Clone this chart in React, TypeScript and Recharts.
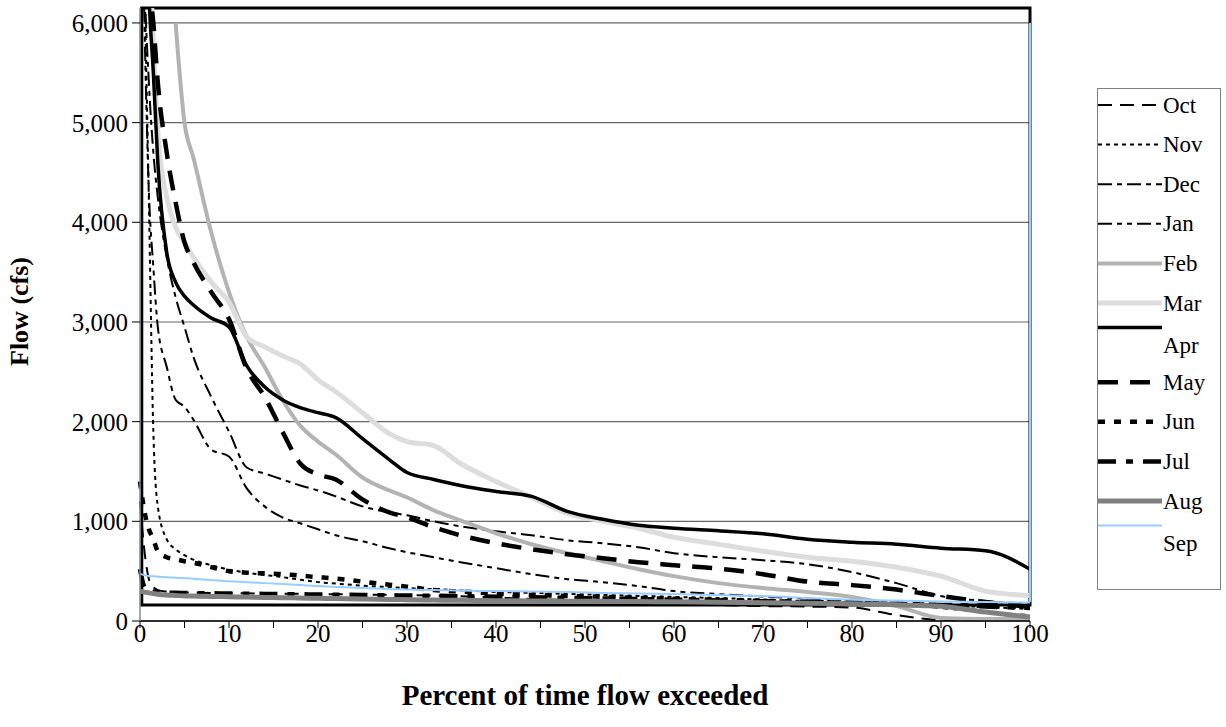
import React from "react";
import {
  LineChart,
  Line,
  XAxis,
  YAxis,
  CartesianGrid,
  ReferenceArea,
  ReferenceLine,
} from "recharts";

// percent of time flow exceeded (shared x positions)
const pct = [0, 0.5, 1, 1.5, 2, 3, 4, 5, 6, 8, 10, 12, 14, 16, 18, 20, 22, 25, 28, 30, 33, 36, 40, 44, 48, 52, 56, 60, 65, 70, 75, 80, 85, 90, 95, 100];

// monthly flow duration values (cfs)
const oct = [1200, 700, 420, 340, 310, 295, 290, 287, 285, 282, 280, 278, 276, 274, 272, 270, 268, 265, 262, 260, 255, 248, 235, 222, 210, 200, 188, 175, 160, 150, 145, 135, 60, 12, 10, 10];
const nov = [9000, 6500, 4200, 1900, 1150, 820, 720, 660, 615, 560, 515, 485, 462, 440, 415, 390, 375, 355, 340, 330, 320, 308, 292, 282, 272, 262, 252, 242, 230, 215, 200, 188, 175, 160, 140, 120];
const dec = [9000, 6500, 5400, 4700, 4250, 3650, 3250, 2950, 2650, 2250, 1900, 1540, 1480, 1420, 1360, 1310, 1250, 1150, 1090, 1060, 1000, 950, 900, 860, 810, 780, 740, 680, 640, 610, 570, 490, 380, 250, 200, 170];
const jan = [8500, 6000, 4300, 3550, 2950, 2550, 2220, 2150, 2020, 1720, 1650, 1330, 1150, 1040, 980, 920, 860, 800, 730, 690, 640, 590, 530, 470, 420, 390, 350, 300, 270, 245, 225, 205, 175, 130, 90, 60];
const feb = [null, null, null, null, null, null, 6000, 5000, 4650, 3900, 3300, 2850, 2550, 2220, 1960, 1800, 1670, 1440, 1310, 1240, 1110, 1010, 880, 770, 680, 600, 520, 450, 380, 330, 290, 240, 150, 30, 20, 20];
const mar = [9000, 8000, 6800, 5800, 4900, 4250, 3950, 3800, 3650, 3400, 3200, 2850, 2750, 2660, 2580, 2420, 2300, 2090, 1880, 1800, 1760, 1580, 1400, 1240, 1080, 1000, 930, 840, 770, 700, 640, 600, 540, 450, 300, 255];
const apr = [9500, 8000, 6300, 5500, 4600, 3700, 3400, 3260, 3170, 3040, 2950, 2560, 2350, 2220, 2140, 2090, 2040, 1830, 1620, 1490, 1420, 1360, 1300, 1250, 1100, 1020, 960, 930, 905, 875, 820, 790, 770, 730, 705, 520];
const may = [9000, 8500, 6500, 6000, 5400, 4700, 4200, 3800, 3600, 3300, 3030, 2530, 2250, 1900, 1580, 1470, 1420, 1220, 1090, 1040, 940, 860, 780, 720, 670, 630, 590, 560, 525, 470, 395, 360, 315, 250, 190, 140];
const jun = [1400, 1100, 920, 820, 700, 640, 620, 600, 585, 540, 500, 485, 478, 470, 455, 440, 425, 395, 365, 345, 310, 295, 275, 262, 252, 242, 232, 222, 212, 202, 192, 182, 172, 162, 152, 140];
const jul = [520, 340, 305, 295, 290, 285, 283, 281, 280, 278, 276, 274, 272, 270, 268, 266, 264, 261, 258, 256, 253, 249, 244, 238, 232, 226, 220, 214, 206, 198, 190, 182, 172, 160, 145, 130];
const aug = [300, 290, 282, 275, 268, 260, 256, 252, 250, 247, 244, 240, 237, 234, 231, 228, 225, 220, 216, 213, 210, 207, 204, 201, 199, 197, 195, 193, 188, 183, 178, 172, 162, 148, 90, 40];
const sep = [475, 460, 452, 448, 445, 440, 435, 430, 425, 412, 398, 390, 380, 370, 360, 350, 342, 330, 320, 315, 310, 305, 300, 295, 290, 282, 276, 270, 260, 250, 230, 212, 205, 195, 190, 185];

const yTicks = [0, 1000, 2000, 3000, 4000, 5000, 6000];
const xTicks = [0, 5, 10, 15, 20, 25, 30, 35, 40, 45, 50, 55, 60, 65, 70, 75, 80, 85, 90, 95, 100];

const FONT = '"Liberation Serif", "Times New Roman", serif';

const series = [
  { key: "Oct", values: oct, color: "#000", width: 2, dash: "14 8" },
  { key: "Nov", values: nov, color: "#000", width: 2, dash: "4 4" },
  { key: "Dec", values: dec, color: "#000", width: 2, dash: "14 5 5 5" },
  { key: "Jan", values: jan, color: "#000", width: 2, dash: "14 5 5 5 5 5" },
  { key: "Feb", values: feb, color: "#b3b3b3", width: 4, dash: undefined },
  { key: "Mar", values: mar, color: "#dddddd", width: 5, dash: undefined },
  { key: "Apr", values: apr, color: "#000", width: 3.5, dash: undefined },
  { key: "May", values: may, color: "#000", width: 4.5, dash: "20 12" },
  { key: "Jun", values: jun, color: "#000", width: 4.5, dash: "7 9" },
  { key: "Jul", values: jul, color: "#000", width: 4.5, dash: "18 10 7 10" },
  { key: "Aug", values: aug, color: "#808080", width: 5, dash: undefined },
  { key: "Sep", values: sep, color: "#99ccff", width: 2, dash: undefined },
];

const data = pct.map((p, i) => {
  const row: Record<string, number | null> = { pct: p };
  series.forEach((s) => {
    row[s.key] = s.values[i];
  });
  return row;
});

function YTitle(props: any) {
  const vb = props.viewBox || { x: 0, y: 8, height: 613 };
  const cx = vb.x + 19;
  const cy = vb.y + vb.height / 2 - 3;
  return (
    <text
      x={cx}
      y={cy}
      transform={`rotate(-90 ${cx} ${cy})`}
      textAnchor="middle"
      dominantBaseline="central"
      fontWeight="bold"
      fontSize={26}
      fill="#000"
    >
      Flow (cfs)
    </text>
  );
}

function XTitle(props: any) {
  const vb = props.viewBox || { x: 140, y: 621, width: 890 };
  return (
    <text
      x={vb.x + vb.width / 2}
      y={vb.y + 74}
      textAnchor="middle"
      dominantBaseline="central"
      fontWeight="bold"
      fontSize={29}
      fill="#000"
    >
      Percent of time flow exceeded
    </text>
  );
}

function MonthLegend() {
  const rowGap = 39.6;
  return (
    <svg
      width={124}
      height={502}
      style={{
        position: "absolute",
        left: 1097,
        top: 88,
        border: "1px solid #808080",
        boxSizing: "border-box",
        background: "#fff",
      }}
    >
      {series.map((s, i) => {
        const y = 16 + rowGap * i;
        // Apr and Sep labels wrap below their line samples in the original
        const wrapped = s.key === "Apr" || s.key === "Sep";
        return (
          <g key={s.key}>
            <line
              x1={0}
              x2={64}
              y1={wrapped ? y - 15 : y}
              y2={wrapped ? y - 15 : y}
              stroke={s.color}
              strokeWidth={s.width}
              strokeDasharray={s.dash}
            />
            <text
              x={65}
              y={wrapped ? y + 3 : y}
              dominantBaseline="central"
              fontSize={23}
              fill="#000"
            >
              {s.key}
            </text>
          </g>
        );
      })}
    </svg>
  );
}

export default function App() {
  return (
    <div
      style={{
        position: "absolute",
        left: 0,
        top: 0,
        width: 1226,
        height: 727,
        background: "#fff",
        fontFamily: FONT,
      }}
    >
      <LineChart
        width={1226}
        height={727}
        data={data}
        margin={{ top: 8, right: 196, bottom: 0, left: 0 }}
      >
        <CartesianGrid vertical={false} stroke="#666" strokeWidth={1.2} />
        <XAxis
          type="number"
          dataKey="pct"
          domain={[0, 100]}
          ticks={xTicks}
          interval={0}
          height={106}
          tickSize={7}
          tickMargin={-4}
          tickFormatter={(v: number) => (v % 10 === 0 ? String(v) : "")}
          tick={{ fontSize: 25, fill: "#000" }}
          axisLine={{ stroke: "#000", strokeWidth: 1.5 }}
          tickLine={{ stroke: "#000" }}
          label={<XTitle />}
        />
        <YAxis
          type="number"
          domain={[0, 6150]}
          allowDataOverflow
          ticks={yTicks}
          interval={0}
          width={140}
          tickSize={8}
          tickMargin={4}
          tickFormatter={(v: number) => v.toLocaleString("en-US")}
          tick={{ fontSize: 25, fill: "#000" }}
          axisLine={{ stroke: "#7f8a96", strokeWidth: 1.5 }}
          tickLine={{ stroke: "#000" }}
          label={<YTitle />}
        />
        <ReferenceArea
          x1={0.2}
          x2={100}
          y1={160}
          y2={6150}
          fill="none"
          fillOpacity={0}
          stroke="#000"
          strokeWidth={3}
        />
        {series.map((s) => (
          <Line
            key={s.key}
            type="monotone"
            dataKey={s.key}
            stroke={s.color}
            strokeWidth={s.width}
            strokeDasharray={s.dash}
            dot={false}
            activeDot={false}
            isAnimationActive={false}
          />
        ))}
        <ReferenceLine
          segment={[
            { x: 100, y: 190 },
            { x: 100, y: 6000 },
          ]}
          stroke="#99ccff"
          strokeWidth={2}
        />
      </LineChart>
      <MonthLegend />
    </div>
  );
}
